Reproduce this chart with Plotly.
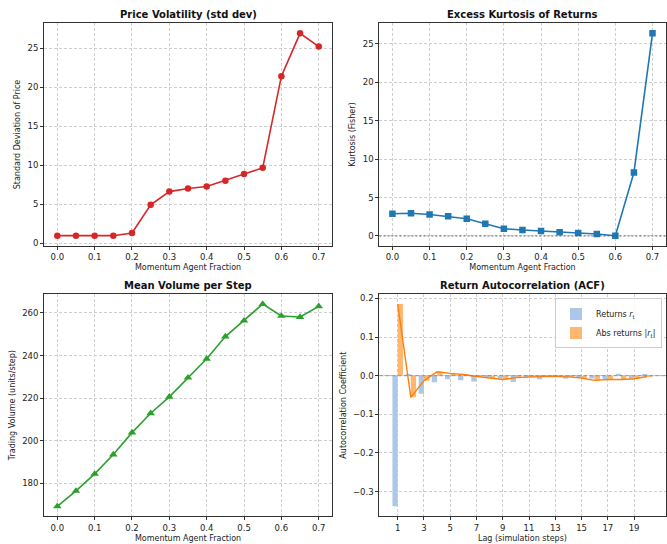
import plotly.graph_objects as go
from plotly.subplots import make_subplots

# ---------------- data ----------------
frac = [0.0, 0.05, 0.1, 0.15, 0.2, 0.25, 0.3, 0.35, 0.4, 0.45, 0.5, 0.55, 0.6, 0.65, 0.7]
volatility = [0.95, 0.95, 0.95, 0.95, 1.3, 4.9, 6.6, 7.0, 7.25, 8.0, 8.85, 9.65, 21.4, 26.9, 25.2]
kurtosis = [2.9, 2.95, 2.8, 2.55, 2.25, 1.6, 0.95, 0.78, 0.65, 0.48, 0.4, 0.26, 0.04, 8.25, 26.35]
volume = [169.2, 176.4, 184.4, 193.5, 203.8, 212.9, 220.6, 229.6, 238.5, 248.9, 256.4, 264.2, 258.6, 258.1, 263.1]

lags = list(range(1, 21))
acf_returns = [-0.338, 0.003, -0.047, -0.017, -0.009, -0.012, -0.015, -0.003, -0.007, -0.016,
               -0.002, -0.009, -0.003, -0.008, -0.004, -0.007, -0.010, 0.005, -0.010, 0.003]
acf_abs = [0.1855, -0.056, -0.013, 0.010, 0.006, 0.003, -0.002, -0.006, -0.010, -0.005,
           -0.003, -0.002, -0.002, -0.003, -0.006, -0.012, -0.010, -0.010, -0.008, -0.002]

frac_ticks = [0.0, 0.1, 0.2, 0.3, 0.4, 0.5, 0.6, 0.7]
lag_ticks = [1, 3, 5, 7, 9, 11, 13, 15, 17, 19]

# ---------------- figure ----------------
W, H = 667, 544
fig = make_subplots(rows=2, cols=2)

FONT = "DejaVu Sans"
TXT = "#222222"

red, blue, green, orange = "#d62728", "#1f77b4", "#2ca02c", "#ff7f0e"

fig.add_trace(go.Scatter(x=frac, y=volatility, mode="lines+markers",
                         line=dict(color=red, width=1.6),
                         marker=dict(symbol="circle", size=6.5, color=red),
                         showlegend=False), row=1, col=1)

fig.add_trace(go.Scatter(x=frac, y=kurtosis, mode="lines+markers",
                         line=dict(color=blue, width=1.6),
                         marker=dict(symbol="square", size=6.5, color=blue),
                         showlegend=False), row=1, col=2)

fig.add_trace(go.Scatter(x=frac, y=volume, mode="lines+markers",
                         line=dict(color=green, width=1.6),
                         marker=dict(symbol="triangle-up", size=7.5, color=green),
                         showlegend=False), row=2, col=1)

fig.add_trace(go.Bar(x=lags, y=acf_returns, width=0.4, offset=-0.4,
                     marker=dict(color="#aec7e8", line=dict(width=0)),
                     name="Returns <i>r</i><sub>t</sub>"), row=2, col=2)
fig.add_trace(go.Bar(x=lags, y=acf_abs, width=0.4, offset=0.0,
                     marker=dict(color="#ffb770", line=dict(width=0)),
                     name="Abs returns |<i>r</i><sub>t</sub>|"), row=2, col=2)
fig.add_trace(go.Scatter(x=lags, y=acf_abs, mode="lines",
                         line=dict(color=orange, width=1.4),
                         showlegend=False), row=2, col=2)

# domains from the reference pixel geometry
def px_x(a, b):
    return [a / W, b / W]

def px_y(top, bottom):
    return [1 - bottom / H, 1 - top / H]

dom = {
    1: (px_x(44.3, 332.3), px_y(23.3, 246.7)),
    2: (px_x(380, 666.5), px_y(23.3, 246.7)),
    3: (px_x(44.3, 332.3), px_y(295, 518.3)),
    4: (px_x(380, 666.5), px_y(295, 518.3)),
}

def margin_range(vals, frac_m=0.05):
    lo, hi = min(vals), max(vals)
    span = hi - lo
    return [lo - frac_m * span, hi + frac_m * span]

common_axis = dict(
    showline=True, linecolor="#333333", linewidth=1.2, mirror=True,
    ticks="outside", ticklen=3, tickwidth=0.8, tickcolor="#333333",
    showgrid=True, gridcolor="#cfcfcf", griddash="3px,2px", gridwidth=0.7,
    zeroline=False,
    tickfont=dict(family=FONT, size=8.5, color=TXT),
    title_font=dict(family=FONT, size=8, color=TXT),
)

xrng_frac = margin_range(frac)
acf_x_lo = lags[0] - 0.4
acf_x_hi = lags[-1] + 0.4
acf_xr = [acf_x_lo - 0.05 * (acf_x_hi - acf_x_lo), acf_x_hi + 0.05 * (acf_x_hi - acf_x_lo)]
acf_yr = margin_range(acf_returns + acf_abs)

axes_cfg = {
    1: dict(xr=xrng_frac, yr=margin_range(volatility), xt="Momentum Agent Fraction",
            yt="Standard Deviation of Price", xtv=frac_ticks, ytv=[0, 5, 10, 15, 20, 25]),
    2: dict(xr=xrng_frac, yr=margin_range(kurtosis), xt="Momentum Agent Fraction",
            yt="Kurtosis (Fisher)", xtv=frac_ticks, ytv=[0, 5, 10, 15, 20, 25]),
    3: dict(xr=xrng_frac, yr=margin_range(volume), xt="Momentum Agent Fraction",
            yt="Trading Volume (units/step)", xtv=frac_ticks, ytv=[180, 200, 220, 240, 260]),
    4: dict(xr=acf_xr, yr=acf_yr, xt="Lag (simulation steps)",
            yt="Autocorrelation Coefficient", xtv=lag_ticks,
            ytv=[-0.3, -0.2, -0.1, 0.0, 0.1, 0.2]),
}

for i in range(1, 5):
    xs = "xaxis" if i == 1 else f"xaxis{i}"
    ys = "yaxis" if i == 1 else f"yaxis{i}"
    c = axes_cfg[i]
    xfmt = ".1f" if i < 4 else "d"
    yfmt = "d" if i < 4 else ".1f"
    fig.update_layout({
        xs: dict(common_axis, domain=dom[i][0], range=c["xr"], tickvals=c["xtv"],
                 tickformat=xfmt, title=dict(text=c["xt"], standoff=3)),
        ys: dict(common_axis, domain=dom[i][1], range=c["yr"], tickvals=c["ytv"],
                 tickformat=yfmt, title=dict(text=c["yt"], standoff=5)),
    })

# reference lines at zero
fig.add_shape(type="line", xref="x2 domain", yref="y2", x0=0, x1=1, y0=0, y1=0,
              line=dict(color="#555555", width=0.9, dash="2px,2px"))
fig.add_shape(type="line", xref="x4 domain", yref="y4", x0=0, x1=1, y0=0, y1=0,
              line=dict(color="#888888", width=0.9, dash="4px,2px"))

# subplot titles
titles = {1: "Price Volatility (std dev)", 2: "Excess Kurtosis of Returns",
          3: "Mean Volume per Step", 4: "Return Autocorrelation (ACF)"}
title_y = {1: 15, 2: 15, 3: 286.5, 4: 286.5}
for i, t in titles.items():
    xd = dom[i][0]
    fig.add_annotation(text=f"<b>{t}</b>", xref="paper", yref="paper",
                       x=(xd[0] + xd[1]) / 2, y=1 - title_y[i] / H,
                       xanchor="center", yanchor="middle", showarrow=False,
                       font=dict(family=FONT, size=10, color="#111111"))

fig.update_layout(
    width=W, height=H,
    margin=dict(l=0, r=0, t=0, b=0),
    paper_bgcolor="white", plot_bgcolor="white",
    barmode="overlay",
    font=dict(family=FONT, size=8, color=TXT),
    legend=dict(x=663 / W, y=1 - 299.5 / H, xanchor="right", yanchor="top",
                bgcolor="rgba(255,255,255,0.85)", bordercolor="#cccccc", borderwidth=1,
                font=dict(family=FONT, size=8, color=TXT),
                itemwidth=30, tracegroupgap=0, itemsizing="constant"),
)

fig.write_html("out.html", config={"displayModeBar": False},
               post_script="document.body.style.margin='0';document.body.style.overflow='hidden';")
